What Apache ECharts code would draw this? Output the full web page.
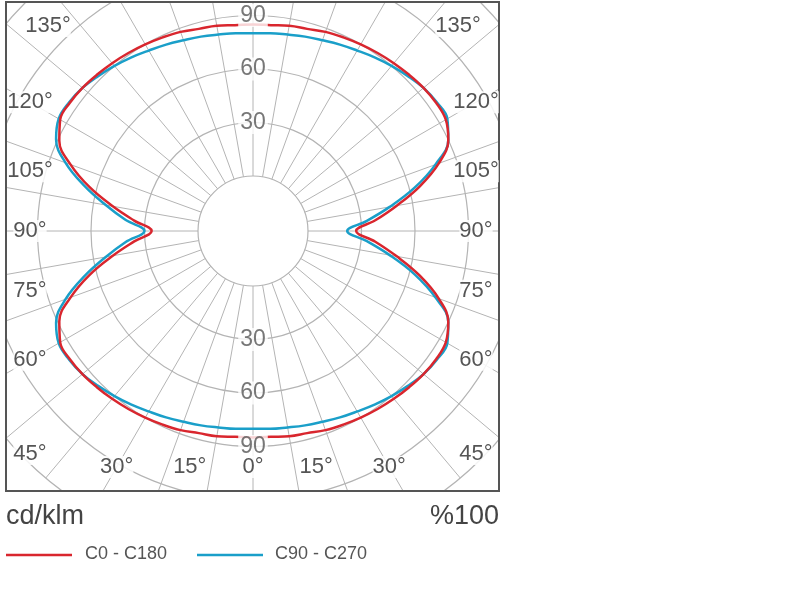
<!DOCTYPE html>
<html><head><meta charset="utf-8">
<script src="https://cdn.jsdelivr.net/npm/echarts@6/dist/echarts.min.js"></script>
<style>html,body{margin:0;padding:0;background:#fff}#c{width:795px;height:600px}</style>
</head><body><div id="c"></div>
<script>
// diagram angles (0 = down, 180 = up), 5 degree steps
var angles = [0,5,10,15,20,25,30,35,40,45,50,55,60,65,70,75,80,85,90,95,100,105,110,115,120,125,130,135,140,145,150,155,160,165,170,175,180];
// C0 - C180: left half (C180) and right half (C0)
var redLeft  = [85,85,86,86.5,88,89,90,91,92,93,94,94.5,94,89,78,64,49,36,26,36,49,64,78,89,94,94.5,94,93,92,91,90,89,88,86.5,86,85,85];
var redRight = [85,85,86,86.5,88,89,90,91,92,93,94,94.5,94,90,80,66,51,38,27,38,51,66,80,90,94,94.5,94,93,92,91,90,89,88,86.5,86,85,85];
// C90 - C270
var blueLeft  = [80,80.5,81,82,83,84.5,86,88,90,92,94,95,95,91,81,67,53,41,30,41,53,67,81,91,95,95,94,92,90,88,86,84.5,83,82,81,80.5,80];
var blueRight = [80,80.5,81,82,83,84.5,86,88,90,92,94,95,95,90,78,63,47,33,22,33,47,63,78,90,95,95,94,92,90,88,86,84.5,83,82,81,80.5,80];
var ringLabels = [30, 60, 90];
var angleLabels = [0, 15, 30, 45, 60, 75, 90, 105, 120, 135];

function curve(left, right) {
    var pts = [];
    angles.forEach(function (a, i) { pts.push([left[i], a]); });
    for (var i = angles.length - 1; i >= 0; i--) pts.push([right[i], 360 - angles[i]]);
    return pts;
}

var cx = 253, cy = 231, box = {x: 6, y: 2, w: 493, h: 489};
var font = '22px "Helvetica Neue", Arial, sans-serif';
var graphics = [
    {type: 'rect', shape: {x: 0, y: 0, width: 795, height: box.y}, style: {fill: '#fff'}, z: 100},
    {type: 'rect', shape: {x: 0, y: 0, width: box.x, height: 600}, style: {fill: '#fff'}, z: 100},
    {type: 'rect', shape: {x: box.x + box.w, y: 0, width: 300, height: 600}, style: {fill: '#fff'}, z: 100},
    {type: 'rect', shape: {x: 0, y: box.y + box.h, width: 795, height: 120}, style: {fill: '#fff'}, z: 100},
    {type: 'rect', shape: {x: box.x, y: box.y, width: box.w, height: box.h}, style: {fill: 'none', stroke: '#555', lineWidth: 2}, z: 101},
    {type: 'text', left: 6, top: 503, style: {text: 'cd/klm', font: '27px "Helvetica Neue", Arial, sans-serif', fill: '#444'}, z: 102},
    {type: 'text', right: 795 - 499, top: 503, style: {text: '%100', font: '27px "Helvetica Neue", Arial, sans-serif', fill: '#444'}, z: 102},
    {type: 'line', shape: {x1: 6, y1: 555, x2: 72, y2: 555}, style: {stroke: '#d9262e', lineWidth: 2.5}, z: 102},
    {type: 'text', left: 85, top: 545, style: {text: 'C0 - C180', font: '18px "Helvetica Neue", Arial, sans-serif', fill: '#555'}, z: 102},
    {type: 'line', shape: {x1: 197, y1: 555, x2: 263, y2: 555}, style: {stroke: '#1a9fc9', lineWidth: 2.5}, z: 102},
    {type: 'text', left: 275, top: 545, style: {text: 'C90 - C270', font: '18px "Helvetica Neue", Arial, sans-serif', fill: '#555'}, z: 102}
];
// angle labels along box edge
var inset = 24;
angleLabels.forEach(function (a) {
    var rad = a * Math.PI / 180;
    var dx = Math.sin(rad), dy = Math.cos(rad); // down = +y
    [-1, 1].forEach(function (side) {
        if (a === 0 && side === 1) return;
        var hx = (cx - box.x - inset), hy = (box.y + box.h - cy - inset);
        var hyUp = (cy - box.y - inset);
        var t = Math.min(Math.abs(dx) > 1e-6 ? hx / Math.abs(dx) : 1e9,
                         dy > 1e-6 ? hy / dy : (dy < -1e-6 ? hyUp / -dy : 1e9));
        var x = cx + side * dx * t, y = cy + dy * t;
        graphics.push({type: 'text', x: x, y: y, style: {text: a + '°', font: font, fill: '#555', align: 'center', verticalAlign: 'middle', backgroundColor: 'rgba(255,255,255,0.85)'}, z: 102});
    });
});

var chart = echarts.init(document.getElementById('c'));
chart.setOption({
    animation: false,
    polar: {center: [cx, cy], radius: [55, 322.5]},
    angleAxis: {type: 'value', min: 0, max: 360, interval: 10, startAngle: 270, clockwise: true,
        axisLine: {show: false}, axisTick: {show: false}, axisLabel: {show: false},
        splitLine: {lineStyle: {color: '#b4b4b4', width: 1}}},
    radiusAxis: {type: 'value', min: 0, max: 150, interval: 30,
        axisLine: {show: false}, axisTick: {show: false}, axisLabel: {show: false},
        splitLine: {lineStyle: {color: '#b4b4b4', width: 1.2}}},
    series: [
        {type: 'line', coordinateSystem: 'polar', data: curve(redLeft, redRight), smooth: 0.4, showSymbol: false,
            lineStyle: {color: '#d9262e', width: 2.5}, z: 3},
        {type: 'line', coordinateSystem: 'polar', data: curve(blueLeft, blueRight), smooth: 0.4, showSymbol: false,
            lineStyle: {color: '#1a9fc9', width: 2.5}, z: 2},
        {type: 'scatter', coordinateSystem: 'polar', symbolSize: 0, z: 4,
            data: ringLabels.map(function (v) { return [v, 180]; }).concat(ringLabels.map(function (v) { return [v, 0]; })),
            label: {show: true, position: 'inside', formatter: function (p) { return p.value[0]; },
                fontSize: 23, color: '#555', fontFamily: '"Helvetica Neue", Arial, sans-serif', backgroundColor: '#fff', padding: [0, 2]}}
    ],
    graphic: graphics
});
</script></body></html>
